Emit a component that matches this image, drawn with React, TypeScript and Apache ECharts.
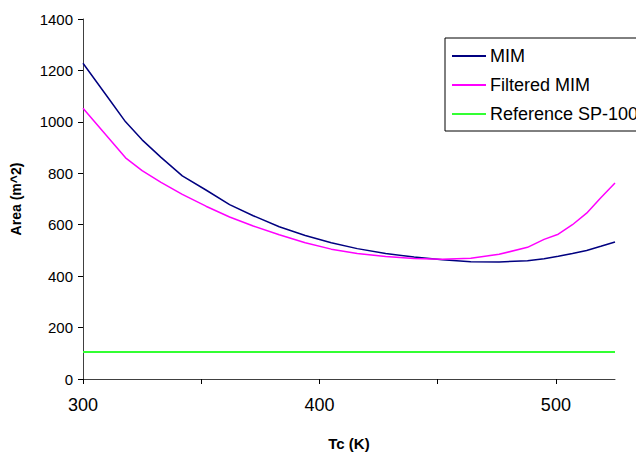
import React, { useEffect, useRef } from "react";
import * as echarts from "echarts";

const temps = [300, 306, 312, 318, 325, 333, 342, 352, 362, 372, 383, 394, 405, 416, 428, 440, 452, 464, 476, 488, 495, 501, 507, 513, 519, 525];
const mim = [1228, 1152, 1076, 1000, 930, 862, 790, 735, 678, 635, 592, 558, 530, 507, 488, 474, 464, 456, 455, 460, 468, 477, 488, 500, 516, 533];
const filteredMim = [1053, 989, 925, 860, 810, 765, 718, 672, 630, 595, 561, 530, 505, 488, 476, 469, 466, 470, 485, 512, 543, 563, 600, 645, 705, 762];
const referenceSp100 = 105;
const seriesNames = ["MIM", "Filtered MIM", "Reference SP-100"];

export default function App() {
  const ref = useRef<HTMLDivElement>(null);
  useEffect(() => {
    const chart = echarts.init(ref.current!, null, { renderer: "svg" });
    const font = "Liberation Sans, Arial, sans-serif";
    chart.setOption({
      animation: false,
      backgroundColor: "#ffffff",
      textStyle: { fontFamily: font },
      grid: { left: 83, right: 21, top: 19, bottom: 66 },
      legend: {
        orient: "vertical",
        left: 445,
        top: 38,
        padding: [9, 200, 8, 7],
        icon: "rect",
        itemWidth: 34,
        itemHeight: 2,
        itemGap: 11,
        borderColor: "#000000",
        borderWidth: 1,
        borderRadius: 0,
        data: seriesNames,
        textStyle: { fontFamily: font, fontSize: 18, color: "#000000", padding: [0, 0, 0, -1] },
      },
      xAxis: {
        type: "value",
        min: 300,
        max: 525,
        interval: 50,
        name: "Tc (K)",
        nameLocation: "middle",
        nameGap: 57,
        nameTextStyle: { fontFamily: font, fontSize: 15, fontWeight: "bold", color: "#000000" },
        axisLine: { show: true, onZero: false, lineStyle: { color: "#404040", width: 1 } },
        axisTick: { show: true, inside: false, length: 5, lineStyle: { color: "#000000" } },
        splitLine: { show: false },
        axisLabel: {
          fontFamily: font,
          fontSize: 18,
          color: "#000000",
          margin: 17,
          showMaxLabel: false,
          formatter: (v: number) => (v % 100 === 0 ? String(v) : ""),
        },
      },
      yAxis: {
        type: "value",
        min: 0,
        max: 1400,
        interval: 200,
        name: "Area (m^2)",
        nameLocation: "middle",
        nameGap: 60,
        nameTextStyle: { fontFamily: font, fontSize: 14, fontWeight: "bold", color: "#000000" },
        axisLine: { show: true, lineStyle: { color: "#404040", width: 1 } },
        axisTick: { show: true, inside: false, length: 5, lineStyle: { color: "#000000" } },
        splitLine: { show: false },
        axisLabel: { fontFamily: font, fontSize: 15, color: "#000000", margin: 10, formatter: (v: number) => String(v) },
      },
      series: [
        {
          name: seriesNames[0],
          type: "line",
          symbol: "none",
          data: temps.map((t, i) => [t, mim[i]]),
          lineStyle: { color: "#000080", width: 1.5 },
          itemStyle: { color: "#000080" },
        },
        {
          name: seriesNames[1],
          type: "line",
          symbol: "none",
          data: temps.map((t, i) => [t, filteredMim[i]]),
          lineStyle: { color: "#ff00ff", width: 1.5 },
          itemStyle: { color: "#ff00ff" },
        },
        {
          name: seriesNames[2],
          type: "line",
          symbol: "none",
          data: temps.map((t) => [t, referenceSp100]),
          lineStyle: { color: "#33ff33", width: 2 },
          itemStyle: { color: "#33ff33" },
        },
      ],
    });
    return () => chart.dispose();
  }, []);
  return <div ref={ref} style={{ position: "fixed", left: 0, top: 0, width: 636, height: 456 }} />;
}
